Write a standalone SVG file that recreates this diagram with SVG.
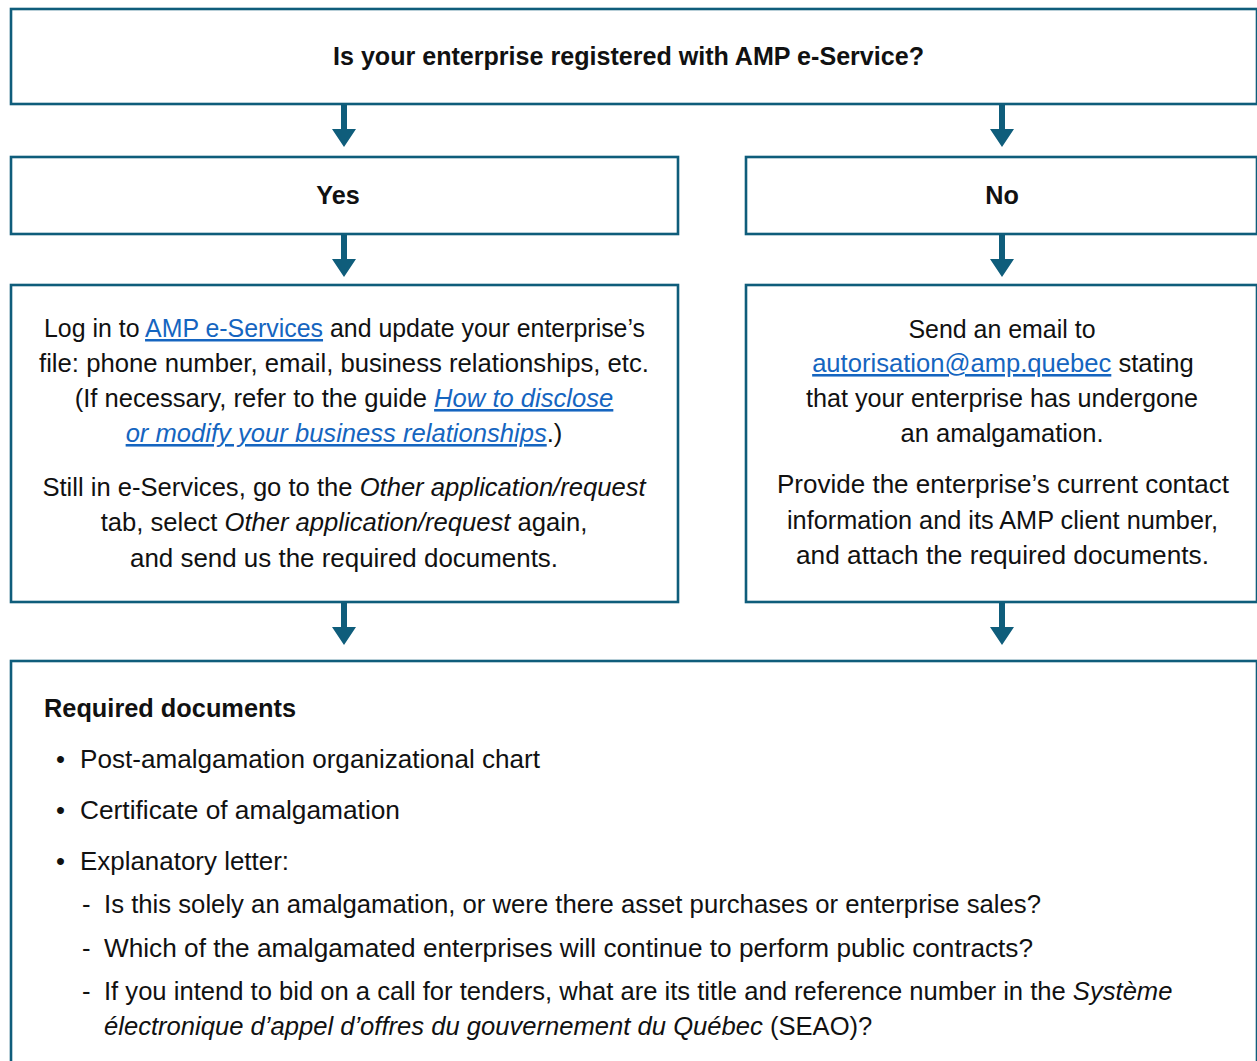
<svg xmlns="http://www.w3.org/2000/svg" width="1257" height="1061" viewBox="0 0 1257 1061">
<style>
.box{fill:#fff;stroke:#0f5d7b;stroke-width:2.6}
.arr{fill:#0f5d7b}
text{font-family:"Liberation Sans",Arial,sans-serif;font-size:25.6px;fill:#111}
.b{font-weight:bold;font-size:25.2px}
.c{text-anchor:middle}
.i{font-style:italic}
.lnk{fill:#1565c0;text-decoration:underline}
</style>
<rect width="1257" height="1061" fill="#fff"/>
<g id="connectors">
<path class="arr" d="M341 105h6v24h9l-12 18l-12-18h9z"/>
<path class="arr" d="M999 105h6v24h9l-12 18l-12-18h9z"/>
<path class="arr" d="M341 235h6v24h9l-12 18l-12-18h9z"/>
<path class="arr" d="M999 235h6v24h9l-12 18l-12-18h9z"/>
<path class="arr" d="M341 603h6v24h9l-12 18l-12-18h9z"/>
<path class="arr" d="M999 603h6v24h9l-12 18l-12-18h9z"/>
</g>
<g id="question">
<rect class="box" x="11" y="9" width="1246" height="95"/>
<text class="b c" x="628.5" y="65" textLength="591" lengthAdjust="spacingAndGlyphs">Is your enterprise registered with AMP e-Service?</text>
</g>
<g id="yes">
<rect class="box" x="11" y="157" width="667" height="77"/>
<text class="b c" x="338" y="204">Yes</text>
</g>
<g id="no">
<rect class="box" x="746" y="157" width="511" height="77"/>
<text class="b c" x="1002" y="204">No</text>
</g>
<g id="yes-steps">
<rect class="box" x="11" y="285" width="667" height="317"/>
<text class="c" x="344.5" y="337" style="font-size:24.9px">Log in to <tspan class="lnk">AMP e-Services</tspan> and update your enterprise’s</text>
<text class="c" x="344" y="372" textLength="610" lengthAdjust="spacingAndGlyphs">file: phone number, email, business relationships, etc.</text>
<text class="c" x="344" y="407">(If necessary, refer to the guide <tspan class="lnk i">How to disclose</tspan></text>
<text class="c" x="344" y="442"><tspan class="lnk i">or modify your business relationships</tspan>.)</text>
<text class="c" x="344" y="496">Still in e-Services, go to the <tspan class="i">Other application/request</tspan></text>
<text class="c" x="344" y="531">tab, select <tspan class="i">Other application/request</tspan> again,</text>
<text class="c" x="344" y="567" textLength="428" lengthAdjust="spacingAndGlyphs">and send us the required documents.</text>
</g>
<g id="no-steps">
<rect class="box" x="746" y="285" width="511" height="317"/>
<text class="c" x="1002" y="338" textLength="187" lengthAdjust="spacingAndGlyphs">Send an email to</text>
<text class="c" x="1003" y="372"><tspan class="lnk">autorisation@amp.quebec</tspan> stating</text>
<text class="c" x="1002" y="407" textLength="392" lengthAdjust="spacingAndGlyphs">that your enterprise has undergone</text>
<text class="c" x="1002" y="442" textLength="203" lengthAdjust="spacingAndGlyphs">an amalgamation.</text>
<text class="c" x="1003" y="493" textLength="452" lengthAdjust="spacingAndGlyphs">Provide the enterprise’s current contact</text>
<text class="c" x="1002.5" y="529" textLength="431" lengthAdjust="spacingAndGlyphs">information and its AMP client number,</text>
<text class="c" x="1002.5" y="564" textLength="413" lengthAdjust="spacingAndGlyphs">and attach the required documents.</text>
</g>
<g id="required-documents">
<rect class="box" x="11" y="661" width="1246" height="420"/>
<text class="b" x="44" y="717" textLength="252" lengthAdjust="spacingAndGlyphs">Required documents</text>
<text x="56" y="768">•</text>
<text x="80" y="768" textLength="460" lengthAdjust="spacingAndGlyphs">Post-amalgamation organizational chart</text>
<text x="56" y="819">•</text>
<text x="80" y="819" textLength="320" lengthAdjust="spacingAndGlyphs">Certificate of amalgamation</text>
<text x="56" y="870">•</text>
<text x="80" y="870" textLength="209" lengthAdjust="spacingAndGlyphs">Explanatory letter:</text>
<text x="82" y="913">-</text>
<text x="104" y="913" textLength="937" lengthAdjust="spacingAndGlyphs">Is this solely an amalgamation, or were there asset purchases or enterprise sales?</text>
<text x="82" y="957">-</text>
<text x="104" y="957" textLength="929" lengthAdjust="spacingAndGlyphs">Which of the amalgamated enterprises will continue to perform public contracts?</text>
<text x="82" y="1000">-</text>
<text x="104" y="1000">If you intend to bid on a call for tenders, what are its title and reference number in the <tspan class="i">Système</tspan></text>
<text x="104" y="1035"><tspan class="i">électronique d’appel d’offres du gouvernement du Québec</tspan> (SEAO)?</text>
</g>
</svg>
